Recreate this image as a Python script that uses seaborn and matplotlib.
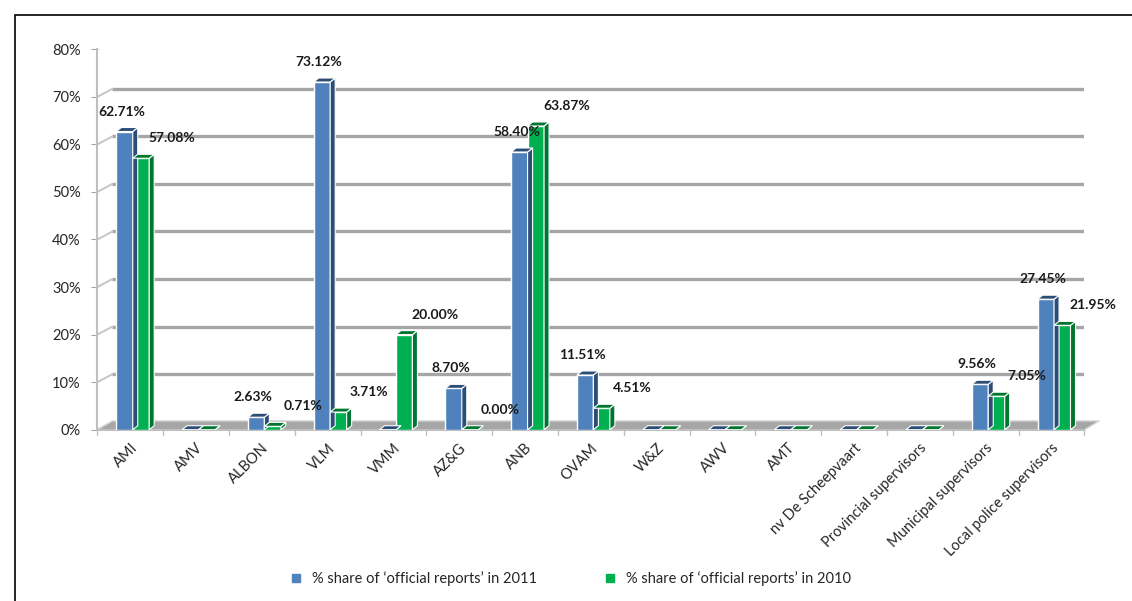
import numpy as np
import pandas as pd
import matplotlib
matplotlib.use("Agg")
import matplotlib.pyplot as plt
import seaborn as sns
from matplotlib.patches import Polygon, Rectangle
from matplotlib.lines import Line2D

categories = ["AMI", "AMV", "ALBON", "VLM", "VMM", "AZ&G", "ANB", "OVAM", "W&Z", "AWV", "AMT",
              "nv De Scheepvaart", "Provincial supervisors", "Municipal supervisors",
              "Local police supervisors"]
share_2011 = [62.71, 0, 2.63, 73.12, 0, 8.70, 58.40, 11.51, 0, 0, 0, 0, 0, 9.56, 27.45]
share_2010 = [57.08, 0, 0.71, 3.71, 20.00, 0.00, 63.87, 4.51, 0, 0, 0, 0, 0, 7.05, 21.95]
labels_2011 = ["62.71%", "", "2.63%", "73.12%", "", "8.70%", "58.40%", "11.51%", "", "", "", "", "", "9.56%", "27.45%"]
labels_2010 = ["57.08%", "", "0.71%", "3.71%", "20.00%", "0.00%", "63.87%", "4.51%", "", "", "", "", "", "7.05%", "21.95%"]
series = ["% share of \u2018official reports\u2019 in 2011", "% share of \u2018official reports\u2019 in 2010"]
yticks = [0, 10, 20, 30, 40, 50, 60, 70, 80]

df = pd.DataFrame({
    "category": categories * 2,
    "value": share_2011 + share_2010,
    "series": [series[0]] * len(categories) + [series[1]] * len(categories),
})

sns.set_style("white")
plt.rcParams["font.family"] = ["Lato", "DejaVu Sans"]

colors = {series[0]: "#4F81BD", series[1]: "#00B050"}
side_colors = ["#2C4D75", "#00752F"]

fig = plt.figure(figsize=(11.32, 6.01), dpi=100)
ax = fig.add_axes([0.086, 0.285, 0.872, 0.633])

sns.barplot(data=df, x="category", y="value", hue="series", palette=colors, saturation=1,
            width=0.5, edgecolor="white", linewidth=1, ax=ax, legend=False, zorder=3)

ax.set_xlim(-0.5, len(categories) - 0.5)
ax.set_ylim(0, 80)
ax.set_xlabel("")
ax.set_ylabel("")

# pixel to data conversion for the fake 3D depth
fig.canvas.draw()
bbox = ax.get_window_extent()
px_x = (ax.get_xlim()[1] - ax.get_xlim()[0]) / bbox.width
px_y = (ax.get_ylim()[1] - ax.get_ylim()[0]) / bbox.height
dx, dy = 5 * px_x, 4 * px_y
n = len(categories)

# gridlines on the back wall
for v in yticks:
    ax.plot([-0.5 + 3 * dx, n - 0.5 + dx], [v + dy * 2, v + dy * 2],
            color="#A6A6A6", lw=2.4, zorder=1, solid_capstyle="butt")
    ax.plot([-0.5, -0.5 + 3 * dx], [v, v + dy * 2], color="#C8C8C8", lw=1.5, zorder=1)

# floor
floor = Polygon([(-0.5, 0), (n - 0.5, 0), (n - 0.5 + 3 * dx, 2.2 * dy), (-0.5 + 3 * dx, 2.2 * dy)],
                closed=True, facecolor="#A6A6A6", edgecolor="#D9D9D9", lw=1, zorder=2,
                clip_on=False)
ax.add_patch(floor)

# side and top faces
bars = [p for p in ax.patches if isinstance(p, Rectangle)]
for i, bar in enumerate(bars[:2 * n]):
    s = i // n
    bar.set_x(bar.get_x() + 0.5 * dx)
    x0 = bar.get_x()
    w = bar.get_width()
    h = bar.get_height()
    side = Polygon([(x0 + w, 0), (x0 + w, h), (x0 + w + dx, h + dy), (x0 + w + dx, dy)],
                   closed=True, facecolor=side_colors[s], edgecolor="white", lw=0.8, zorder=3)
    top = Polygon([(x0, h), (x0 + w, h), (x0 + w + dx, h + dy), (x0 + dx, h + dy)],
                  closed=True, facecolor=side_colors[s], edgecolor="white", lw=0.8, zorder=3)
    ax.add_patch(side)
    ax.add_patch(top)

# data labels
for i, bar in enumerate(bars[:2 * n]):
    s = i // n
    lab = (labels_2011 if s == 0 else labels_2010)[i % n]
    if not lab:
        continue
    xc = bar.get_x() + bar.get_width() / 2
    off = (-2, 10) if s == 0 else (22, 10)
    ax.annotate(lab, (xc, bar.get_height()), xytext=off, textcoords="offset points",
                ha="center", va="bottom", fontsize=10, fontweight="bold", color="#1a1a1a",
                zorder=5)

ax.set_yticks(yticks)
ax.set_yticklabels([f"{v}%" for v in yticks], fontsize=10.5)
ax.set_xticks(range(n))
ax.set_xticklabels(categories, rotation=45, ha="right", rotation_mode="anchor", fontsize=10.5)
ax.tick_params(axis="x", length=0, pad=8)
ax.tick_params(axis="y", length=4, color="#A6A6A6", direction="out", left=True, pad=8)
for b in np.arange(-0.5, n, 1.0):
    ax.plot([b, b], [0, -1.2], color="#BFBFBF", lw=1, clip_on=False, zorder=2)

for sp in ["top", "right"]:
    ax.spines[sp].set_visible(False)
ax.spines["left"].set_color("#BFBFBF")
ax.spines["bottom"].set_color("#BFBFBF")
ax.spines["left"].set_linewidth(1.5)
ax.spines["bottom"].set_linewidth(1.5)

handles = [Line2D([], [], marker="s", ls="", markersize=6, markerfacecolor=colors[k],
                  markeredgecolor=colors[k]) for k in series]
fig.legend(handles, series, loc="center", bbox_to_anchor=(0.5, 0.038), ncol=2,
           frameon=False, fontsize=10.5, handletextpad=0.1, columnspacing=4)

# outer frame of the picture
fig.add_artist(Rectangle((15 / 1132, -0.05), 1.2, (601 - 15) / 601 + 0.05,
                         transform=fig.transFigure, fill=False, edgecolor="black", lw=1.2))

fig.savefig("out.png", dpi=100)
